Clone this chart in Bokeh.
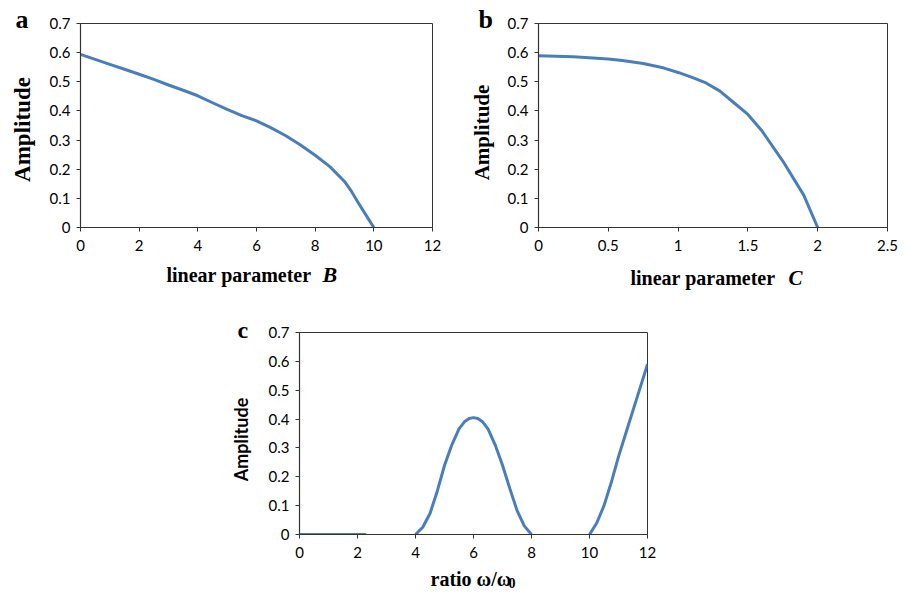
import math
from bokeh.plotting import figure
from bokeh.layouts import row, column, Spacer
from bokeh.models import Range1d, FixedTicker, NumeralTickFormatter, Label
from bokeh.embed import file_html
from bokeh.resources import INLINE

nan = float("nan")

# ---- data ----
xa = [0, 0.5, 1, 1.5, 2, 2.5, 3, 3.5, 4, 4.5, 5, 5.5, 6, 6.5, 7, 7.5, 8, 8.5, 9, 9.25, 9.5, 9.75, 10]
ya = [0.594, 0.577, 0.56, 0.543, 0.526, 0.508, 0.489, 0.471, 0.452, 0.428, 0.405, 0.384, 0.366,
      0.342, 0.315, 0.283, 0.248, 0.209, 0.158, 0.122, 0.08, 0.04, 0.0]

xb = [0, 0.25, 0.5, 0.6, 0.75, 0.9, 1, 1.1, 1.2, 1.3, 1.4, 1.5, 1.6, 1.75, 1.9, 2]
yb = [0.589, 0.586, 0.578, 0.573, 0.563, 0.547, 0.532, 0.515, 0.496, 0.468, 0.428, 0.388, 0.332,
      0.228, 0.111, 0.0]

xc = [0, 2.3, nan, 4, 4.25, 4.5, 4.75, 5, 5.25, 5.5, 5.7, 5.85, 6, 6.15, 6.3, 6.5, 6.75, 7, 7.25,
      7.5, 7.75, 8, nan, 10, 10.25, 10.5, 10.75, 11, 11.25, 11.5, 11.75, 12]
yc = [0, 0, nan, 0, 0.025, 0.073, 0.15, 0.239, 0.31, 0.366, 0.392, 0.402, 0.405, 0.402, 0.392,
      0.366, 0.31, 0.24, 0.16, 0.084, 0.03, 0, nan, 0, 0.04, 0.10, 0.18, 0.27, 0.35, 0.43, 0.51, 0.59]

y_ticks = [0, 0.1, 0.2, 0.3, 0.4, 0.5, 0.6, 0.7]
xa_ticks = [0, 2, 4, 6, 8, 10, 12]
xb_ticks = [0, 0.5, 1, 1.5, 2, 2.5]
xc_ticks = [0, 2, 4, 6, 8, 10, 12]

LINE = "#4A7EBB"
DARK = "#333333"
SERIF = "Liberation Serif"


def make_fig(w, h, left, right, top, bottom, xr, xticks, xfmt):
    p = figure(width=w, height=h, x_range=Range1d(*xr), y_range=Range1d(0, 0.7),
               output_backend="svg", toolbar_location=None,
               min_border_left=left, min_border_right=right,
               min_border_top=top, min_border_bottom=bottom)
    p.xgrid.visible = False
    p.ygrid.visible = False
    p.outline_line_color = DARK
    p.outline_line_width = 1
    p.xaxis.ticker = FixedTicker(ticks=xticks)
    p.yaxis.ticker = FixedTicker(ticks=y_ticks)
    p.xaxis.formatter = NumeralTickFormatter(format=xfmt)
    p.yaxis.formatter = NumeralTickFormatter(format="0.[0]")
    for ax in (p.xaxis[0], p.yaxis[0]):
        ax.axis_line_color = DARK
        ax.axis_line_width = 1.2
        ax.major_tick_line_color = DARK
        ax.major_tick_in = 0
        ax.major_tick_out = 4
        ax.minor_tick_line_color = None
        ax.major_label_text_font = "Lato"
        ax.major_label_text_font_size = "15px"
        ax.major_label_text_color = "#000000"
    p.xaxis.major_label_standoff = 8
    p.yaxis.major_label_standoff = 6
    return p


def lab(p, side, x, y, text, size, style="bold", font=SERIF, angle=0, align="left", baseline="alphabetic"):
    p.add_layout(Label(x=x, y=y, x_units="canvas", y_units="canvas", text=text,
                       text_font=font, text_font_size=size, text_font_style=style,
                       text_color="#000000", angle=angle, text_align=align,
                       text_baseline=baseline), side)


# panel a  (page origin 0,0)
pa = make_fig(466, 300, 80, 34, 19, 73, (0, 12), xa_ticks, "0")
pa.line(xa, ya, line_color=LINE, line_width=3, line_join="round")
lab(pa, "left", 15, 19, "a", "26px")
lab(pa, "left", 22, 129, "Amplitude", "23px", angle=math.pi / 2, align="center", baseline="middle")
lab(pa, "below", 166, 274, "linear parameter", "20px")
lab(pa, "below", 322, 274, "B", "22px", style="bold italic")

# panel b  (page origin 466,0)
pb = make_fig(444, 300, 72, 23, 23, 71, (0, 2.5), xb_ticks, "0.[0]")
pb.line(xb, yb, line_color=LINE, line_width=3, line_join="round")
lab(pb, "left", 12, 19, "b", "26px")
lab(pb, "left", 15, 132, "Amplitude", "21px", angle=math.pi / 2, align="center", baseline="middle")
lab(pb, "below", 164, 277, "linear parameter", "20px")
lab(pb, "below", 322, 277, "C", "21px", style="bold italic")

# panel c  (page origin 227,300)
pc = make_fig(440, 293, 72, 20, 32, 59, (0, 12), xc_ticks, "0")
pc.line(xc, yc, line_color=LINE, line_width=3, line_join="round")
lab(pc, "left", 10, 29, "c", "24px")
lab(pc, "left", 13, 139, "Amplitude", "18px", font="Lato", angle=math.pi / 2, align="center", baseline="middle")
lab(pc, "below", 203, 278, "ratio \u03c9/\u03c9", "20px")
lab(pc, "below", 281, 282, "0", "14px")

layout = column(row(pa, pb), row(Spacer(width=227, height=293), pc))

open("out.html", "w").write(file_html(layout, INLINE))
